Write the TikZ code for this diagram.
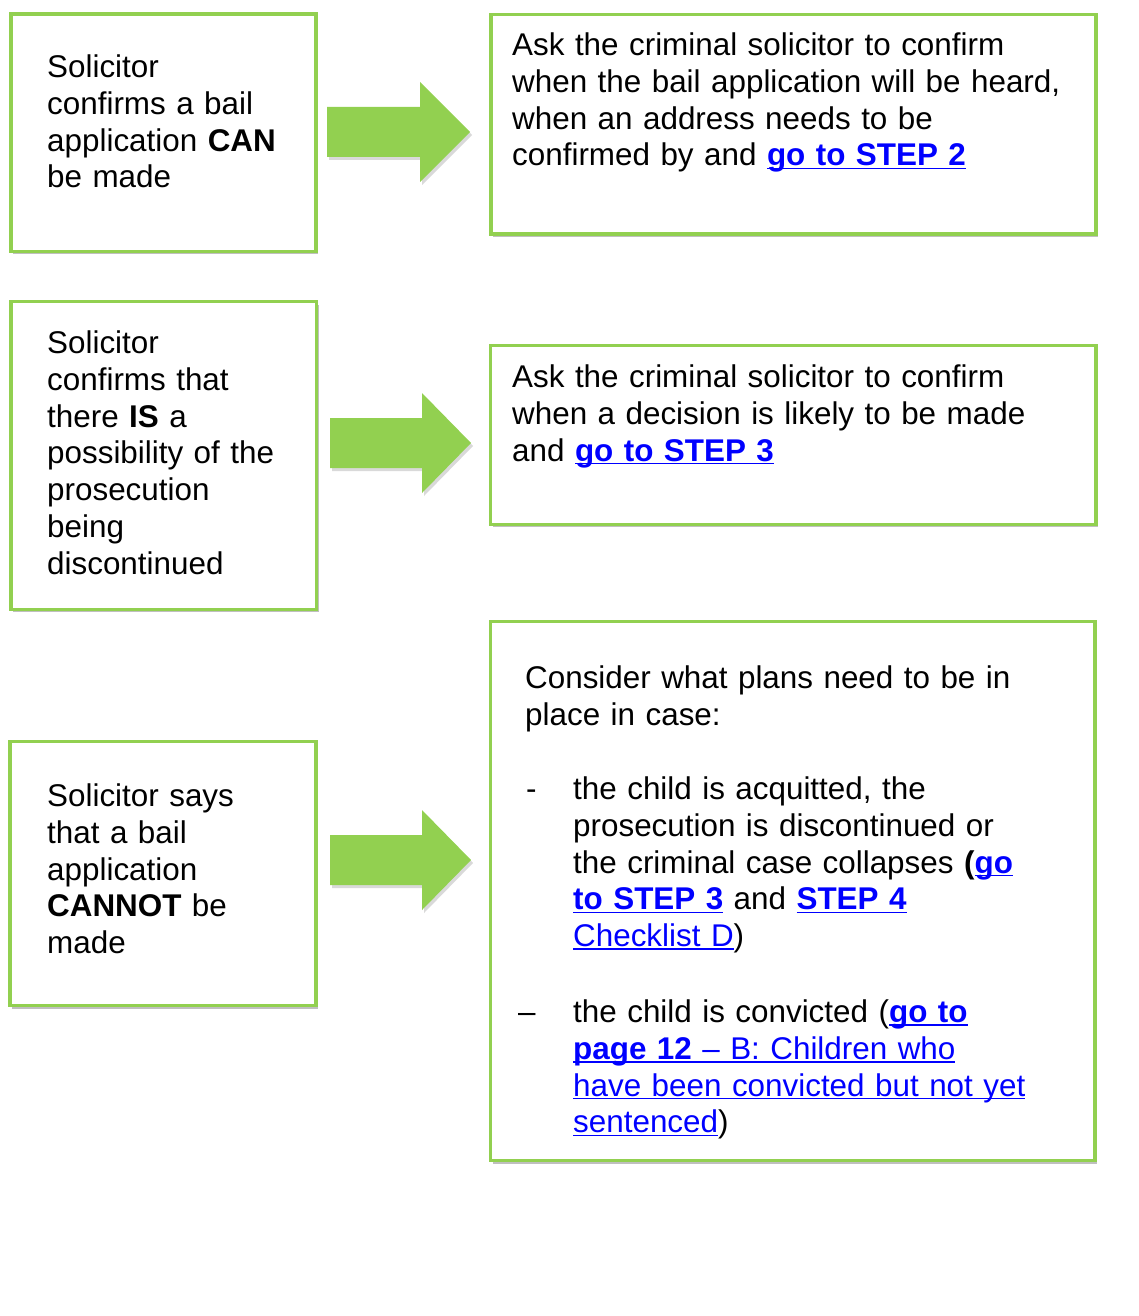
\documentclass[tikz,border=0pt]{standalone}
\usepackage{fontspec}
\setmainfont{Liberation Sans}
\usetikzlibrary{shadows}
\definecolor{boxgreen}{RGB}{146,208,80}
\definecolor{linkblue}{RGB}{0,0,255}
\newcommand{\ulk}[1]{\setbox0\hbox{#1}\rlap{\rule[-3.2pt]{\wd0}{1.5pt}}\box0}
\newcommand{\lnk}[1]{\textcolor{linkblue}{\ulk{#1}}}
\newcommand{\blnk}[1]{\textcolor{linkblue}{\ulk{\textbf{#1}}}}
\tikzset{
  box/.style={draw=boxgreen, line width=3.4pt, fill=white, inner sep=0pt, anchor=north west,
    drop shadow={shadow xshift=2pt, shadow yshift=-3pt, fill=black, opacity=0.25}},
  txt/.style={anchor=base west, inner sep=0pt, text width=600pt, align=left,
    font=\fontsize{31.4}{36.8}\selectfont},
  barrow/.style={fill=boxgreen, drop shadow={shadow xshift=2pt, shadow yshift=-3pt, fill=black, opacity=0.15}}
}
\begin{document}
\begin{tikzpicture}[x=1pt,y=-1pt]
\useasboundingbox (0,0) rectangle (1138,1316);
% boxes
\node[box, minimum width=305pt, minimum height=237pt] (b1) at (9.1,12.5) {};
\node[box, minimum width=605pt, minimum height=219.6pt] (a1) at (489.3,12.7) {};
\node[box, minimum width=305.6pt, minimum height=307.6pt] (b2) at (9.4,300) {};
\node[box, minimum width=605.3pt, minimum height=178.6pt] (a2) at (489,344) {};
\node[box, minimum width=306pt, minimum height=264pt] (b3) at (8.4,740) {};
\node[box, minimum width=604.3pt, minimum height=539pt] (a3) at (489,620) {};
% arrows
\fill[barrow] (327,107) -- (420,107) -- (420,82) -- (470,132) -- (420,182) -- (420,157) -- (327,157) -- cycle;
\fill[barrow] (330,418) -- (422,418) -- (422,393) -- (471,443) -- (422,493) -- (422,468) -- (330,468) -- cycle;
\fill[barrow] (330,835) -- (422,835) -- (422,810) -- (471,860) -- (422,910) -- (422,885) -- (330,885) -- cycle;
% texts
\node[txt] (t1) at (47,77.5) {Solicitor\\confirms a bail\\application \textbf{CAN}\\be made};
\node[txt] (u1) at (512,55.5) {Ask the criminal solicitor to confirm\\when the bail application will be heard,\\when an address needs to be\\confirmed by and \blnk{go to STEP 2}};
\node[txt] (t2) at (47,353.5) {Solicitor\\confirms that\\there \textbf{IS} a\\possibility of the\\prosecution\\being\\discontinued};
\node[txt] (u2) at (512,387.5) {Ask the criminal solicitor to confirm\\when a decision is likely to be made\\and \blnk{go to STEP 3}};
\node[txt] (t3) at (47,806.5) {Solicitor says\\that a bail\\application\\\textbf{CANNOT} be\\made};
\node[txt] (u3) at (525,688.5) {Consider what plans need to be in\\place in case:};
\node[txt, text width=30pt] (d1) at (526,799.5) {-};
\node[txt] (i1) at (573,799.5) {the child is acquitted, the\\prosecution is discontinued or\\the criminal case collapses \textbf{(}\blnk{go}\\\blnk{to STEP 3} and \blnk{STEP 4}\\\lnk{Checklist D})};
\node[txt, text width=30pt] (d2) at (518,1022.5) {–};
\node[txt] (i2) at (573,1022.5) {the child is convicted (\blnk{go to}\\\textcolor{linkblue}{\ulk{\textbf{page 12} – B: Children who}}\\\lnk{have been convicted but not yet}\\\lnk{sentenced})};
\end{tikzpicture}
\end{document}
